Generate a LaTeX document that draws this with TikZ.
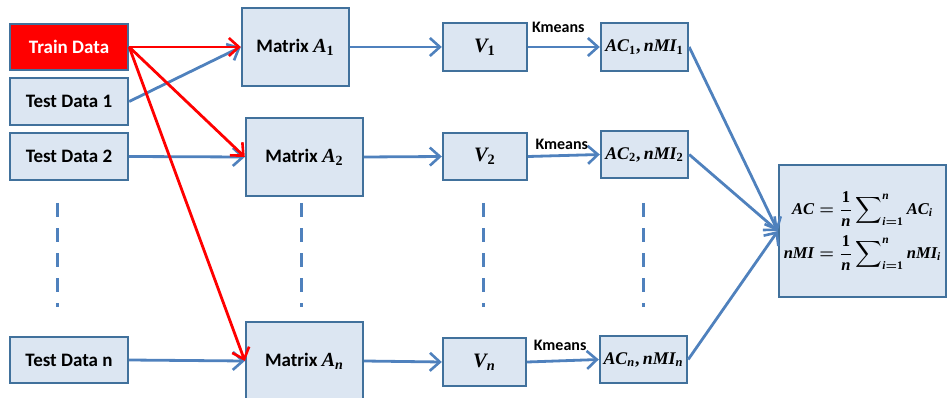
\documentclass[tikz,border=0pt]{standalone}
\usepackage{fontspec}
\setmainfont{Carlito}
\newfontfamily\serifmath{Liberation Serif}
\usepackage{amsmath}
\usepackage{graphicx}
\usetikzlibrary{arrows.meta}
\newcommand{\mv}[1]{\text{\serifmath\bfseries\itshape #1}}
\newcommand{\md}[1]{\text{\serifmath\bfseries #1}}
\newcommand{\mth}[2][1.8]{\scalebox{#1}{\fontsize{10}{12}\selectfont$#2$}}
\newcommand{\bigsumop}{\mathop{\vcenter{\hbox{\scalebox{1.12}{$\displaystyle\sum$}}}}\nolimits}
\definecolor{boxfill}{HTML}{DCE6F2}
\definecolor{boxline}{HTML}{41719C}
\definecolor{arrblue}{HTML}{4F81BD}
\definecolor{arrred}{HTML}{FF0000}
\tikzset{
  box/.style={draw=boxline, line width=2.4pt, fill=boxfill, inner sep=0pt,
    font=\fontsize{19}{22}\selectfont\bfseries\boldmath, text=black},
  redbox/.style={box, fill=arrred, text=white},
  blarrow/.style={draw=arrblue, line width=2.8pt, -{Straight Barb[length=10pt,width=18pt,line width=2.6pt]}},
  rdarrow/.style={draw=arrred, line width=2.8pt, -{Straight Barb[length=10pt,width=18pt,line width=2.6pt]}},
  dotline/.style={draw=arrblue, line width=3pt, dash pattern=on 14pt off 11pt},
  klabel/.style={font=\fontsize{16}{19}\selectfont\bfseries, inner sep=1pt, anchor=south}
}
\begin{document}
\begin{tikzpicture}[x=1pt,y=-1pt]
\useasboundingbox (0,0) rectangle (950,398);
% left column
\node[redbox, minimum width=118pt, minimum height=46pt] (train) at (69,47) {Train Data};
\node[box, minimum width=118pt, minimum height=47pt] (t1) at (69,101.5) {Test Data 1};
\node[box, minimum width=118pt, minimum height=47pt] (t2) at (69,156.5) {Test Data 2};
\node[box, minimum width=118pt, minimum height=46pt] (tn) at (69,360) {Test Data n};
% matrices
\node[box, minimum width=107pt, minimum height=78pt] (a1) at (295.5,47) {Matrix \mth[2]{\mv{A}_{\md{1}}}};
\node[box, minimum width=117pt, minimum height=78pt] (a2) at (304.5,157) {Matrix \mth[2]{\mv{A}_{\md{2}}}};
\node[box, minimum width=117pt, minimum height=78pt] (an) at (304.5,361) {Matrix \mth[2]{\mv{A}_{\mv{n}}}};
% V
\node[box, minimum width=84pt, minimum height=48pt] (v1) at (485,47) {\mth[2.05]{\mv{V}_{\md{1}}}};
\node[box, minimum width=84pt, minimum height=47pt] (v2) at (485,156.5) {\mth[2.05]{\mv{V}_{\md{2}}}};
\node[box, minimum width=83pt, minimum height=48pt] (vn) at (484.5,362) {\mth[2.05]{\mv{V}_{\mv{n}}}};
% AC
\node[box, minimum width=87pt, minimum height=48pt] (c1) at (644.5,47) {\mth[1.78]{\mv{AC}_{\md{1}}\md{,}\,\mv{nMI}_{\md{1}}}};
\node[box, minimum width=87pt, minimum height=47pt] (c2) at (644.5,154.5) {\mth[1.78]{\mv{AC}_{\md{2}}\md{,}\,\mv{nMI}_{\md{2}}}};
\node[box, minimum width=87pt, minimum height=47pt] (cn) at (643.5,359.5) {\mth[1.78]{\mv{AC}_{\mv{n}}\md{,}\,\mv{nMI}_{\mv{n}}}};
% final
\node[box, minimum width=167pt, minimum height=132pt] (fin) at (862.5,231)
  {\mth[1.65]{\begin{array}{@{}r@{}l@{}}
     \mv{AC} & {}= \dfrac{\md{1}}{\mv{n}}\bigsumop_{\mv{i}=\md{1}}^{\mv{n}} \mv{AC}_{\mv{i}}\\[9pt]
     \mv{nMI} & {}= \dfrac{\md{1}}{\mv{n}}\bigsumop_{\mv{i}=\md{1}}^{\mv{n}} \mv{nMI}_{\mv{i}}
   \end{array}}};
% dashed ellipses
\coordinate (d1a) at (57,203); \coordinate (d1b) at (57,307);
\coordinate (d2a) at (301,203); \coordinate (d2b) at (301,307);
\coordinate (d3a) at (483,203); \coordinate (d3b) at (483,307);
\coordinate (d4a) at (643,203); \coordinate (d4b) at (643,307);
\draw[dotline] (d1a) -- (d1b);
\draw[dotline] (d2a) -- (d2b);
\draw[dotline] (d3a) -- (d3b);
\draw[dotline] (d4a) -- (d4b);
% arrows from test data
\draw[blarrow] (t1.east) -- (a1.west);
\draw[blarrow] (t2.east) -- (a2.west);
\draw[blarrow] (tn.east) -- (an.west);
% red arrows
\draw[rdarrow] (train.east) -- (a1.west);
\draw[rdarrow] (train.east) -- (a2.west);
\draw[rdarrow] (train.east) -- (an.west);
% matrix to V
\draw[blarrow] (a1.east) -- (v1.west);
\draw[blarrow] (a2.east) -- (v2.west);
\draw[blarrow] (an.east) -- (vn.west);
% V to AC
\draw[blarrow] (v1.east) -- node[klabel, pos=0.42, yshift=12pt] {Kmeans} (c1.west);
\draw[blarrow] (v2.east) -- node[klabel, pos=0.47, yshift=4pt] {Kmeans} (c2.west);
\draw[blarrow] (vn.east) -- node[klabel, pos=0.46, yshift=8pt] {Kmeans} (cn.west);
% AC to final
\draw[blarrow] (c1.east) -- (fin.west);
\draw[blarrow] (c2.east) -- (fin.west);
\draw[blarrow] (cn.east) -- (fin.west);
\end{tikzpicture}
\end{document}
